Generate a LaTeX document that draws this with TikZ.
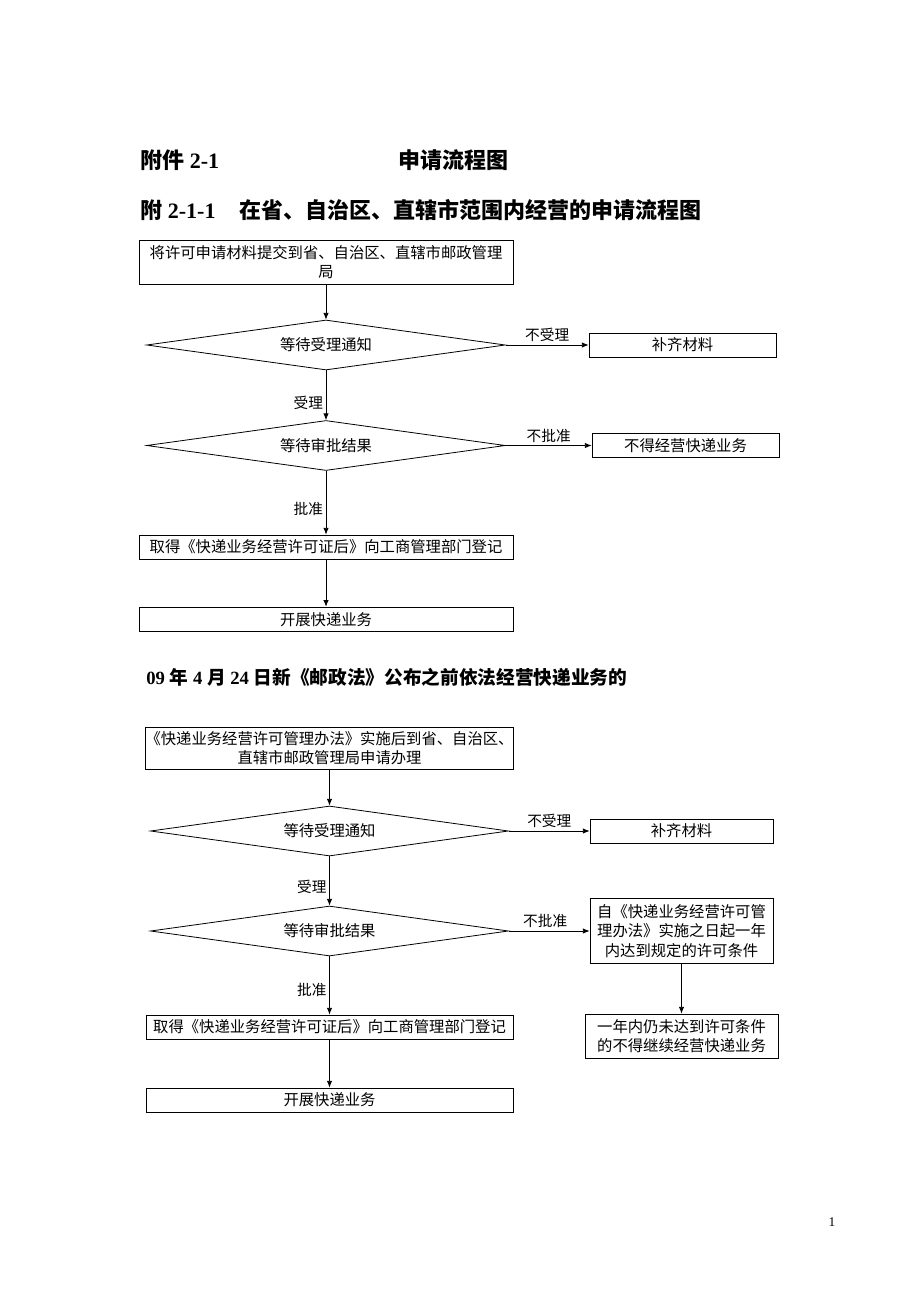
\documentclass[tikz,border=0pt]{standalone}
\usepackage{fontspec}
\setmainfont{Liberation Serif}
\newfontfamily\cjk{Noto Sans CJK SC}
\usetikzlibrary{shapes.geometric,arrows.meta}

\begin{document}
\begin{tikzpicture}[x=0.75pt,y=-0.75pt,line width=0.6pt,
    >={Latex[length=5pt,width=4pt]},
    every node/.style={font=\cjk\fontsize{11.5}{14.5}\selectfont},
    box/.style={draw,rectangle,inner sep=0pt,align=center},
    cond/.style={draw,diamond,inner sep=0pt,aspect=7,minimum width=269pt,minimum height=37.5pt},
    lbl/.style={draw=none,inner sep=2pt,font=\cjk\fontsize{11}{13}\selectfont},
    head/.style={anchor=west,inner sep=0pt}]
    \useasboundingbox (0,0) rectangle (920,1302);

    % headings
    \node[head,font=\fontsize{16.5}{20}\selectfont\bfseries] (t1) at (140,160) {{\cjk 附件} 2-1};
    \node[head,font=\cjk\fontsize{16.5}{20}\selectfont\bfseries] (t2) at (398,160) {申请流程图};
    \node[head,font=\fontsize{16.5}{20}\selectfont\bfseries] (t3) at (140,210) {{\cjk 附} 2-1-1\hspace{1.1em}{\cjk 在省、自治区、直辖市范围内经营的申请流程图}};

    % first chart
    \node[box,minimum width=280.5pt,minimum height=33pt] (sub1) at (326,262) {将许可申请材料提交到省、自治区、直辖市邮政管理\\局};
    \node[cond] (wait1) at (326,345) {等待受理通知};
    \node[box,minimum width=140.25pt,minimum height=18pt] (fill1) at (682.5,345) {补齐材料};
    \node[cond] (check1) at (326,445.5) {等待审批结果};
    \node[box,minimum width=140.25pt,minimum height=18.5pt] (deny1) at (685.5,445.5) {不得经营快递业务};
    \node[box,minimum width=280.5pt,minimum height=18pt] (reg1) at (326,547) {取得《快递业务经营许可证后》向工商管理部门登记};
    \node[box,minimum width=280.5pt,minimum height=18.5pt] (run1) at (326,619.5) {开展快递业务};

    \path[->] (sub1) edge (wait1);
    \path[->] (wait1.east) edge node[lbl,above] {不受理} (fill1.west);
    \path[->] (wait1) edge node[lbl,left,pos=0.65] {受理} (check1);
    \path[->] (check1.east) edge node[lbl,above] {不批准} (deny1.west);
    \path[->] (check1) edge node[lbl,left,pos=0.6] {批准} (reg1);
    \path[->] (reg1) edge (run1);

    % second heading
    \node[head,font=\fontsize{14}{17}\selectfont\bfseries] (t4) at (146,677) {09 {\cjk 年} 4 {\cjk 月} 24 {\cjk 日新《邮政法》公布之前依法经营快递业务的}};

    % second chart
    \node[box,minimum width=275.25pt,minimum height=31.5pt] (sub2) at (329.5,748) {《快递业务经营许可管理办法》实施后到省、自治区、\\直辖市邮政管理局申请办理};
    \node[cond,minimum width=268.5pt] (wait2) at (329.5,831) {等待受理通知};
    \node[box,minimum width=137.25pt,minimum height=18pt] (fill2) at (681.5,831) {补齐材料};
    \node[cond,minimum width=268.5pt] (check2) at (329.5,931) {等待审批结果};
    \node[box,minimum width=137.25pt,minimum height=48.75pt] (year2) at (681.5,931) {自《快递业务经营许可管\\理办法》实施之日起一年\\内达到规定的许可条件};
    \node[box,minimum width=144.75pt,minimum height=33pt] (deny2) at (681.5,1036) {一年内仍未达到许可条件\\的不得继续经营快递业务};
    \node[box,minimum width=275.25pt,minimum height=18pt] (reg2) at (329.5,1027) {取得《快递业务经营许可证后》向工商管理部门登记};
    \node[box,minimum width=275.25pt,minimum height=18pt] (run2) at (329.5,1100) {开展快递业务};

    \path[->] (sub2) edge (wait2);
    \path[->] (wait2.east) edge node[lbl,above] {不受理} (fill2.west);
    \path[->] (wait2) edge node[lbl,left,pos=0.62] {受理} (check2);
    \path[->] (check2.east) edge node[lbl,above,pos=0.45] {不批准} (year2.west);
    \path[->] (year2) edge (deny2);
    \path[->] (check2) edge node[lbl,left,pos=0.58] {批准} (reg2);
    \path[->] (reg2) edge (run2);

    % page number
    \node[font=\fontsize{10}{12}\selectfont] (pg) at (832,1222) {1};
\end{tikzpicture}
\end{document}
